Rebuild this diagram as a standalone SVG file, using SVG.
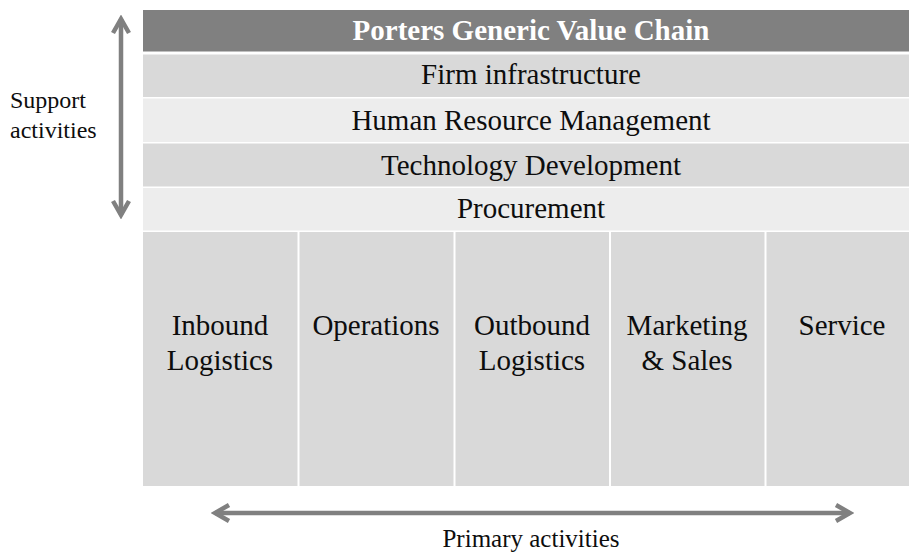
<svg xmlns="http://www.w3.org/2000/svg" width="909" height="552" viewBox="0 0 909 552">
<style>
.t{font-family:"Liberation Serif","Times New Roman",serif;font-size:29px;fill:#0d0d0d;text-anchor:middle}
.h{font-family:"Liberation Serif","Times New Roman",serif;font-size:29px;font-weight:bold;fill:#ffffff;text-anchor:middle}
.s{font-family:"Liberation Serif","Times New Roman",serif;font-size:24px;fill:#0d0d0d}
.dk{fill:#d9d9d9}
.lt{fill:#ededed}
.arr{stroke:#808080;stroke-width:4.5;fill:none;marker-start:url(#ah);marker-end:url(#ah)}
</style>
<defs>
<marker id="ah" markerUnits="userSpaceOnUse" viewBox="-20 -11 24 22" refX="0" refY="0" markerWidth="24" markerHeight="22" orient="auto-start-reverse">
<path d="M -14 -8 L 0 0 L -14 8" fill="none" stroke="#808080" stroke-width="4.5" stroke-linejoin="miter"/>
</marker>
</defs>
<rect width="909" height="552" fill="#ffffff"/>
<g id="header"><rect x="143" y="10" width="780" height="41.5" fill="#808080"/><text class="h" x="531" y="40">Porters Generic Value Chain</text></g>
<g id="firm-infrastructure"><rect class="dk" x="143" y="54.5" width="780" height="42.5"/><text class="t" x="531" y="84">Firm infrastructure</text></g>
<g id="hrm"><rect class="lt" x="143" y="98.5" width="780" height="43.5"/><text class="t" x="531" y="130">Human Resource Management</text></g>
<g id="technology-development"><rect class="dk" x="143" y="143.5" width="780" height="43"/><text class="t" x="531" y="175">Technology Development</text></g>
<g id="procurement"><rect class="lt" x="143" y="188" width="780" height="42.5"/><text class="t" x="531" y="218">Procurement</text></g>
<g id="inbound-logistics"><rect class="dk" x="143" y="232" width="154.5" height="254"/><text class="t" x="220" y="335">Inbound</text><text class="t" x="220" y="370">Logistics</text></g>
<g id="operations"><rect class="dk" x="299.5" y="232" width="154" height="254"/><text class="t" x="376" y="335">Operations</text></g>
<g id="outbound-logistics"><rect class="dk" x="455.5" y="232" width="153.5" height="254"/><text class="t" x="532" y="335">Outbound</text><text class="t" x="532" y="370">Logistics</text></g>
<g id="marketing-sales"><rect class="dk" x="611" y="232" width="153.5" height="254"/><text class="t" x="687" y="335">Marketing</text><text class="t" x="687" y="370">&amp; Sales</text></g>
<g id="service"><rect class="dk" x="766.5" y="232" width="160" height="254"/><text class="t" x="842" y="335">Service</text></g>
<g id="connectors">
<line class="arr" x1="121" y1="19" x2="121" y2="215"/>
<line class="arr" x1="215" y1="513" x2="850" y2="513"/>
</g>
<g id="labels">
<text class="s" x="10" y="108">Support</text>
<text class="s" x="10" y="138">activities</text>
<text class="s" x="531" y="547" text-anchor="middle" style="font-size:25px">Primary activities</text>
</g>
</svg>
